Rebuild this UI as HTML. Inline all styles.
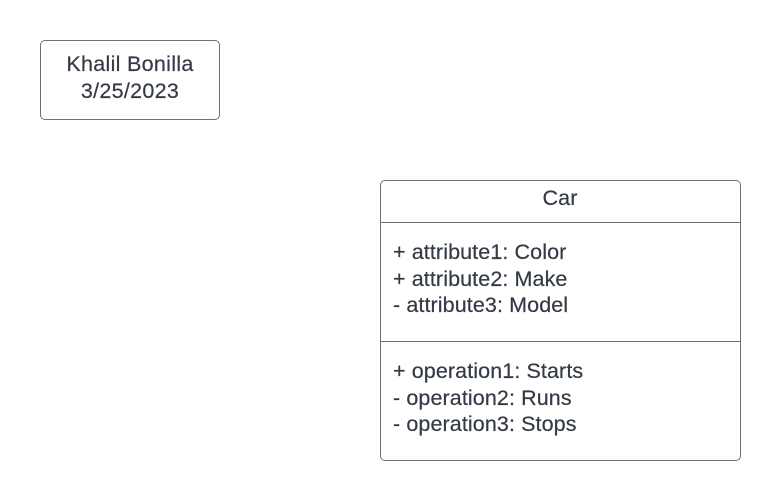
<!DOCTYPE html>
<html><head><style>
body{margin:0;width:780px;height:500px;background:#fff;position:relative;font-family:"Liberation Sans",sans-serif;color:#333a45;overflow:hidden}
.b{position:absolute;border:1px solid #6b717a;border-radius:5px;box-sizing:border-box}
.t{position:absolute;font-size:21.5px;letter-spacing:0.1px;line-height:26.5px;white-space:nowrap;-webkit-text-stroke:0.2px #333a45}
.l{position:absolute;left:380px;width:360px;height:1px;background:#6b717a}
</style></head><body>
<div class="b" style="left:40px;top:40px;width:180px;height:80px"></div>
<div class="t" style="left:40px;width:180px;top:51px;text-align:center;letter-spacing:0.3px">Khalil Bonilla<br>3/25/2023</div>
<div class="b" style="left:380px;top:180px;width:361px;height:281px"></div>
<div class="t" style="left:380px;width:360px;top:185px;text-align:center">Car</div>
<div class="l" style="top:222px"></div>
<div class="l" style="top:341px"></div>
<div class="t" style="left:393px;top:239px">+ attribute1: Color<br>+ attribute2: Make<br>- attribute3: Model</div>
<div class="t" style="left:393px;top:358px">+ operation1: Starts<br>- operation2: Runs<br>- operation3: Stops</div>
</body></html>
